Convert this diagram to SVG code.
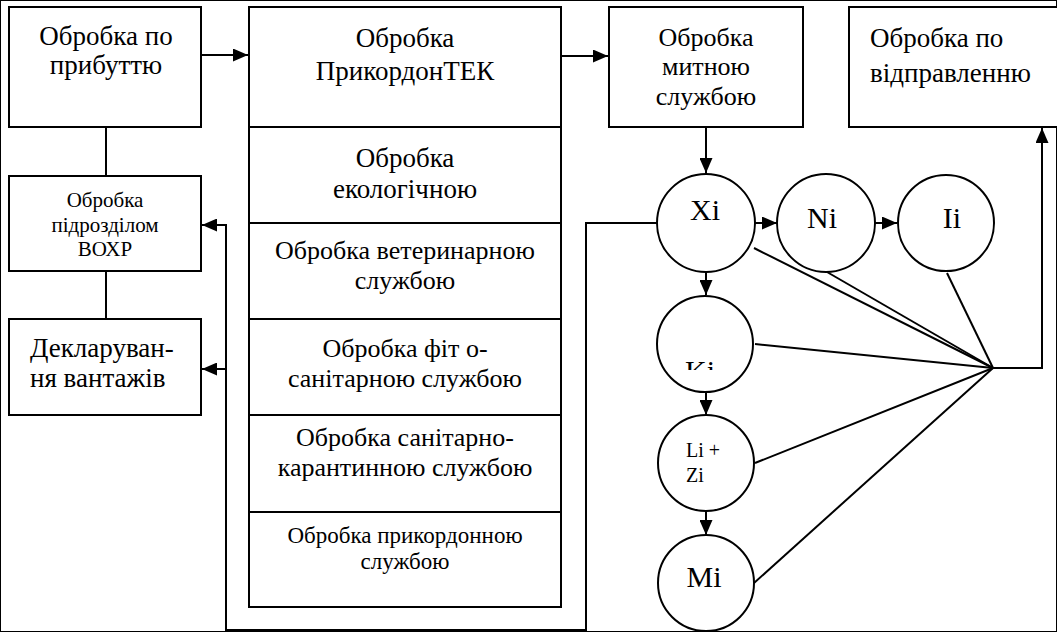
<svg xmlns="http://www.w3.org/2000/svg" width="1057" height="632" viewBox="0 0 1057 632">
<defs>
<marker id="arr" viewBox="0 0 15 13" refX="15" refY="6.5" markerWidth="15" markerHeight="13" markerUnits="userSpaceOnUse" orient="auto">
<path d="M0,0 L15,6.5 L0,13 z" fill="#000"/>
</marker>
<clipPath id="kiclip"><rect x="650" y="300" width="110" height="70"/></clipPath>
</defs>
<style>
rect, circle { fill: #fff; stroke: #000; stroke-width: 2; }
.ln { fill: none; stroke: #000; stroke-width: 2; }
.ar { fill: none; stroke: #000; stroke-width: 2; marker-end: url(#arr); }
text { font-family: "Liberation Serif", "Times New Roman", serif; font-size: 27px; fill: #000; }
.c { text-anchor: middle; }
.n { font-size: 26px; }
.s { font-size: 21px; }
.m { font-size: 23px; }
.g { font-size: 30px; }
.lz { font-size: 20px; }
</style>
<rect width="1057" height="632" fill="#fff" stroke="none"/>
<g id="connectors">
<path class="ar" d="M201,55 H248"/>
<path class="ar" d="M561,56 H608"/>
<path class="ar" d="M706,127 V173"/>
<path class="ar" d="M755,223 H777"/>
<path class="ar" d="M875,223 H897"/>
<path class="ar" d="M706,272 V295"/>
<path class="ar" d="M706,392 V415"/>
<path class="ar" d="M706,511 V535"/>
<path class="ln" d="M754,248 L993,368"/>
<path class="ln" d="M827,272 L993,368"/>
<path class="ln" d="M947,273 L993,368"/>
<path class="ln" d="M755,344 L993,368"/>
<path class="ln" d="M755,463 L993,368"/>
<path class="ln" d="M754,583 L993,368"/>
<path class="ar" d="M993,368 H1042 V128"/>
<path class="ln" d="M106,127 V176"/>
<path class="ln" d="M106,271 V319"/>
<path class="ar" d="M657,223 H586 V630 H226 V225 H202"/>
<path class="ar" d="M226,369 H202"/>
</g>
<g id="arrival">
<rect x="9" y="7" width="192" height="120"/>
<text class="c" x="106" y="45">Обробка по</text>
<text class="c" x="106" y="74">прибуттю</text>
</g>
<g id="vokhr">
<rect x="9" y="176" width="192" height="95"/>
<text class="c s" x="105" y="207">Обробка</text>
<text class="c s" x="105" y="232">підрозділом</text>
<text class="c s" x="105" y="256">ВОХР</text>
</g>
<g id="declaration">
<rect x="9" y="319" width="192" height="96"/>
<text x="30" y="357">Декларуван-</text>
<text x="30" y="387">ня вантажів</text>
</g>
<g id="border-column">
<rect x="249" y="7" width="312" height="600"/>
<path class="ln" d="M249,127 H561 M249,223 H561 M249,319 H561 M249,415 H561 M249,512 H561"/>
<g id="tek">
<text class="c" x="405" y="47">Обробка</text>
<text class="c" x="405" y="80">ПрикордонТЕК</text>
</g>
<g id="eco">
<text class="c" x="405" y="167">Обробка</text>
<text class="c" x="405" y="198">екологічною</text>
</g>
<g id="vet">
<text class="c n" x="405" y="259">Обробка ветеринарною</text>
<text class="c n" x="405" y="289">службою</text>
</g>
<g id="phyto">
<text class="c n" x="405" y="357">Обробка фіт о-</text>
<text class="c n" x="405" y="387">санітарною службою</text>
</g>
<g id="quarantine">
<text class="c n" x="405" y="446">Обробка санітарно-</text>
<text class="c n" x="405" y="476">карантинною службою</text>
</g>
<g id="border-guard">
<text class="c m" x="405" y="543">Обробка прикордонною</text>
<text class="c m" x="405" y="569">службою</text>
</g>
</g>
<g id="customs">
<rect x="609" y="7" width="194" height="120"/>
<text class="c n" x="706" y="46">Обробка</text>
<text class="c n" x="706" y="75">митною</text>
<text class="c n" x="706" y="105">службою</text>
</g>
<g id="departure">
<rect x="849" y="7" width="220" height="120"/>
<text x="870" y="47">Обробка по</text>
<text x="870" y="82">відправленню</text>
</g>
<g id="xi">
<circle cx="706" cy="223" r="49"/>
<text class="c g" x="705" y="220">Xi</text>
</g>
<g id="ni">
<circle cx="826" cy="223" r="49"/>
<text class="c g" x="822" y="228">Ni</text>
</g>
<g id="ii">
<circle cx="946" cy="223" r="48"/>
<text class="c g" x="952" y="228">Ii</text>
</g>
<g id="ki">
<circle cx="705" cy="344" r="48"/>
<text class="g" x="685" y="381" clip-path="url(#kiclip)">Ki</text>
</g>
<g id="lizi">
<circle cx="706" cy="463" r="48"/>
<text class="lz" x="686" y="457">Li +</text>
<text class="lz" x="686" y="482">Zi</text>
</g>
<g id="mi">
<circle cx="706" cy="583" r="48"/>
<text class="c g" x="704" y="587">Mi</text>
</g>
</svg>
